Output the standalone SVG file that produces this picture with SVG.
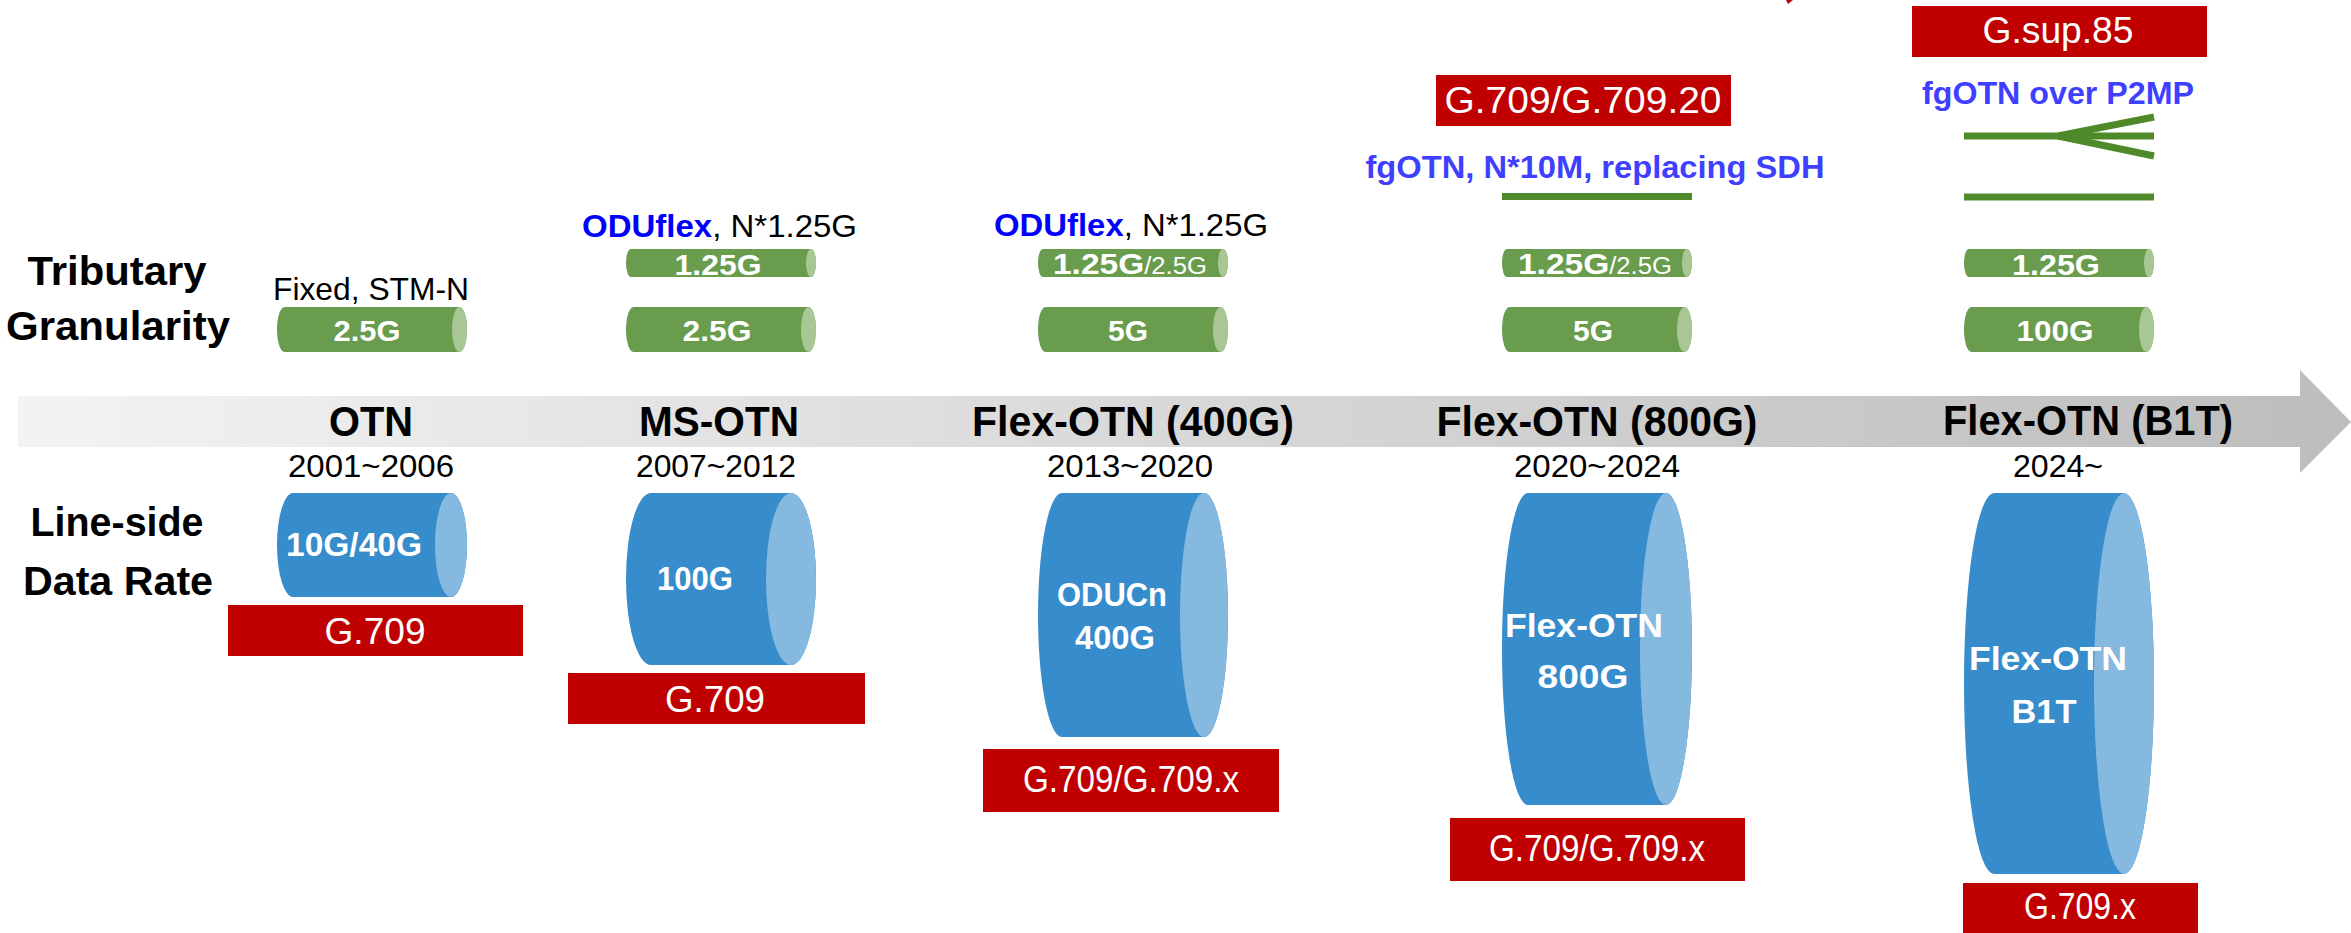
<svg xmlns="http://www.w3.org/2000/svg" xmlns:xlink="http://www.w3.org/1999/xlink" width="2351" height="933" viewBox="0 0 2351 933">
<style>
text{font-family:"Liberation Sans",Arial,sans-serif;}
.lbl{font-weight:bold;font-size:41px;fill:#000;text-anchor:middle;}
.ttl{font-weight:bold;font-size:42px;fill:#000;text-anchor:middle;}
.yr{font-size:32px;fill:#000;text-anchor:middle;}
.note{font-size:32px;fill:#000;}
.odu{font-weight:bold;fill:#0000FF;}
.fg{font-weight:bold;font-size:31px;fill:#3F3FFF;text-anchor:middle;}
.tt{font-weight:bold;font-size:30px;fill:#fff;text-anchor:middle;}
.ct{font-weight:bold;font-size:34px;fill:#fff;text-anchor:middle;}
.rt{font-size:37px;fill:#fff;text-anchor:middle;}
.red{fill:#C00000;}
.gbody{fill:#6A9C4E;}
.gend{fill:#A9C795;}
.bbody{fill:#378CCB;}
.bend{fill:#86B9E0;}
.gline{stroke:#4F8A2A;stroke-width:7;fill:none;}
</style>
<defs>
<linearGradient id="bandGrad" x1="0" y1="0" x2="1" y2="0">
<stop offset="0" stop-color="#F3F3F3"/>
<stop offset="1" stop-color="#BDBDBD"/>
</linearGradient>
<g id="tubeL">
<path class="gbody" d="M7.5,0 H182.5 A7.5 22.5 0 0 1 182.5,45 H7.5 A7.5 22.5 0 0 1 7.5,0 Z"/>
<ellipse class="gend" cx="182.5" cy="22.5" rx="7.5" ry="22.5"/>
</g>
<g id="tubeS">
<path class="gbody" d="M5,0 H185 A5 14 0 0 1 185,28 H5 A5 14 0 0 1 5,0 Z"/>
<ellipse class="gend" cx="185" cy="14" rx="5" ry="14"/>
</g>
</defs>
<rect width="2351" height="933" fill="#fff"/>

<g id="timeline-arrow">
<polygon points="18,396 2300,396 2300,370 2351,422 2300,473 2300,447 18,447" fill="url(#bandGrad)"/>
</g>

<g id="row-labels">
<text class="lbl" x="117" y="285" textLength="179" lengthAdjust="spacingAndGlyphs">Tributary</text>
<text class="lbl" x="118" y="340" textLength="224" lengthAdjust="spacingAndGlyphs">Granularity</text>
<text class="lbl" x="117" y="536" textLength="173" lengthAdjust="spacingAndGlyphs">Line-side</text>
<text class="lbl" x="118" y="595" textLength="190" lengthAdjust="spacingAndGlyphs">Data Rate</text>
</g>

<g id="otn">
<text class="ttl" x="371" y="436" textLength="84" lengthAdjust="spacingAndGlyphs">OTN</text>
<text class="yr" x="371" y="477" textLength="166" lengthAdjust="spacingAndGlyphs">2001~2006</text>
<text class="note" x="273" y="300" textLength="196" lengthAdjust="spacingAndGlyphs">Fixed, STM-N</text>
<use xlink:href="#tubeL" x="277" y="307"/>
<text class="tt" x="367" y="341" textLength="67" lengthAdjust="spacingAndGlyphs">2.5G</text>
<path class="bbody" d="M293,493 H451 A16 52 0 0 1 451,597 H293 A16 52 0 0 1 293,493 Z"/>
<ellipse class="bend" cx="451" cy="545" rx="16" ry="52"/>
<text class="ct" x="354" y="556" textLength="136" lengthAdjust="spacingAndGlyphs">10G/40G</text>
<rect class="red" x="228" y="605" width="295" height="51"/>
<text class="rt" x="375" y="644" textLength="101" lengthAdjust="spacingAndGlyphs">G.709</text>
</g>

<g id="ms-otn">
<text class="ttl" x="719" y="436" textLength="160" lengthAdjust="spacingAndGlyphs">MS-OTN</text>
<text class="yr" x="716" y="477" textLength="160" lengthAdjust="spacingAndGlyphs">2007~2012</text>
<text class="note" x="582" y="237" textLength="275" lengthAdjust="spacingAndGlyphs"><tspan class="odu">ODUflex</tspan>, N*1.25G</text>
<use xlink:href="#tubeS" x="626" y="249"/>
<text class="tt" x="718" y="275" textLength="87" lengthAdjust="spacingAndGlyphs">1.25G</text>
<use xlink:href="#tubeL" x="626" y="307"/>
<text class="tt" x="717" y="341" textLength="69" lengthAdjust="spacingAndGlyphs">2.5G</text>
<path class="bbody" d="M651,493 H791 A25 86 0 0 1 791,665 H651 A25 86 0 0 1 651,493 Z"/>
<ellipse class="bend" cx="791" cy="579" rx="25" ry="86"/>
<text class="ct" x="695" y="590" textLength="76" lengthAdjust="spacingAndGlyphs">100G</text>
<rect class="red" x="568" y="673" width="297" height="51"/>
<text class="rt" x="715" y="712" textLength="100" lengthAdjust="spacingAndGlyphs">G.709</text>
</g>

<g id="flex-otn-400g">
<text class="ttl" x="1133" y="436" textLength="322" lengthAdjust="spacingAndGlyphs">Flex-OTN (400G)</text>
<text class="yr" x="1130" y="477" textLength="166" lengthAdjust="spacingAndGlyphs">2013~2020</text>
<text class="note" x="994" y="236" textLength="274" lengthAdjust="spacingAndGlyphs"><tspan class="odu">ODUflex</tspan>, N*1.25G</text>
<use xlink:href="#tubeS" x="1038" y="249"/>
<text x="1053" y="274" fill="#fff" textLength="154" lengthAdjust="spacingAndGlyphs"><tspan font-weight="bold" font-size="30">1.25G</tspan><tspan font-size="23">/2.5G</tspan></text>
<use xlink:href="#tubeL" x="1038" y="307"/>
<text class="tt" x="1128" y="341" textLength="40" lengthAdjust="spacingAndGlyphs">5G</text>
<path class="bbody" d="M1062,493 H1204 A24 122 0 0 1 1204,737 H1062 A24 122 0 0 1 1062,493 Z"/>
<ellipse class="bend" cx="1204" cy="615" rx="24" ry="122"/>
<text class="ct" x="1112" y="606" textLength="110" lengthAdjust="spacingAndGlyphs">ODUCn</text>
<text class="ct" x="1115" y="649" textLength="80" lengthAdjust="spacingAndGlyphs">400G</text>
<rect class="red" x="983" y="749" width="296" height="63"/>
<text class="rt" x="1131" y="792" font-size="33" textLength="216" lengthAdjust="spacingAndGlyphs">G.709/G.709.x</text>
</g>

<g id="flex-otn-800g">
<text class="ttl" x="1597" y="436" textLength="321" lengthAdjust="spacingAndGlyphs">Flex-OTN (800G)</text>
<text class="yr" x="1597" y="477" textLength="166" lengthAdjust="spacingAndGlyphs">2020~2024</text>
<rect class="red" x="1436" y="75" width="295" height="51"/>
<text class="rt" x="1583" y="113" textLength="277" lengthAdjust="spacingAndGlyphs">G.709/G.709.20</text>
<text class="fg" x="1595" y="178" textLength="459" lengthAdjust="spacingAndGlyphs">fgOTN, N*10M, replacing SDH</text>
<use xlink:href="#tubeS" x="1502" y="249"/>
<text x="1518" y="274" fill="#fff" textLength="154" lengthAdjust="spacingAndGlyphs"><tspan font-weight="bold" font-size="30">1.25G</tspan><tspan font-size="23">/2.5G</tspan></text>
<use xlink:href="#tubeL" x="1502" y="307"/>
<text class="tt" x="1593" y="341" textLength="40" lengthAdjust="spacingAndGlyphs">5G</text>
<path class="bbody" d="M1528,493 H1666 A26 156 0 0 1 1666,805 H1528 A26 156 0 0 1 1528,493 Z"/>
<ellipse class="bend" cx="1666" cy="649" rx="26" ry="156"/>
<text class="ct" x="1584" y="637" font-size="37" textLength="158" lengthAdjust="spacingAndGlyphs">Flex-OTN</text>
<text class="ct" x="1583" y="688" font-size="37" textLength="91" lengthAdjust="spacingAndGlyphs">800G</text>
<rect class="red" x="1450" y="818" width="295" height="63"/>
<text class="rt" x="1597" y="861" font-size="34" textLength="216" lengthAdjust="spacingAndGlyphs">G.709/G.709.x</text>
</g>

<g id="flex-otn-b1t">
<text class="ttl" x="2088" y="435" textLength="290" lengthAdjust="spacingAndGlyphs">Flex-OTN (B1T)</text>
<text class="yr" x="2058" y="477" textLength="90" lengthAdjust="spacingAndGlyphs">2024~</text>
<rect class="red" x="1912" y="6" width="295" height="51"/>
<text class="rt" x="2058" y="43" font-size="34" textLength="151" lengthAdjust="spacingAndGlyphs">G.sup.85</text>
<text class="fg" x="2058" y="104" font-size="32" textLength="272" lengthAdjust="spacingAndGlyphs">fgOTN over P2MP</text>
<use xlink:href="#tubeS" x="1964" y="249"/>
<text class="tt" x="2056" y="275" textLength="88" lengthAdjust="spacingAndGlyphs">1.25G</text>
<use xlink:href="#tubeL" x="1964" y="307"/>
<text class="tt" x="2055" y="341" textLength="77" lengthAdjust="spacingAndGlyphs">100G</text>
<path class="bbody" d="M1994,493 H2124 A30 190.5 0 0 1 2124,874 H1994 A30 190.5 0 0 1 1994,493 Z"/>
<ellipse class="bend" cx="2124" cy="683.5" rx="30" ry="190.5"/>
<text class="ct" x="2048" y="670" font-size="37" textLength="158" lengthAdjust="spacingAndGlyphs">Flex-OTN</text>
<text class="ct" x="2044" y="723" font-size="37" textLength="65" lengthAdjust="spacingAndGlyphs">B1T</text>
<rect class="red" x="1963" y="883" width="235" height="50"/>
<text class="rt" x="2080" y="919" textLength="112" lengthAdjust="spacingAndGlyphs">G.709.x</text>
</g>

<g id="connectors">
<line class="gline" x1="1502" y1="196.5" x2="1692" y2="196.5"/>
<polyline class="gline" points="1964,136 2058,136 2154,117"/>
<line class="gline" x1="2058" y1="136" x2="2154" y2="136"/>
<line class="gline" x1="2058" y1="136" x2="2154" y2="156"/>
<line class="gline" x1="1964" y1="197" x2="2154" y2="197"/>
<polygon class="red" points="1786,0 1793,0 1788,4"/>
</g>
</svg>
